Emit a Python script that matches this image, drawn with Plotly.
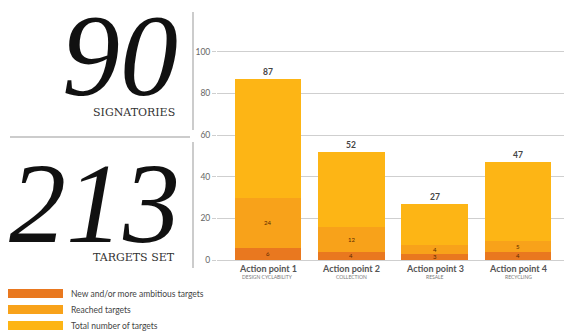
import plotly.graph_objects as go

categories = ["Action point 1", "Action point 2", "Action point 3", "Action point 4"]
subtitles = ["DESIGN CYCLABILITY", "COLLECTION", "RESALE", "RECYCLING"]
new_targets = [6, 4, 3, 4]
reached_targets = [24, 12, 4, 5]
total_targets = [87, 52, 27, 47]
y_ticks = [0, 20, 40, 60, 80, 100]

signatories = "90"
targets_set = "213"

C_NEW = "#E9781F"
C_REACHED = "#F8A21A"
C_TOTAL = "#FDB515"

remainder = [t - n - r for t, n, r in zip(total_targets, new_targets, reached_targets)]
xs = list(range(len(categories)))

# plot area pixel geometry
L, R, T, B = 217, 0, 31, 73
W, H = 564, 333
pw, ph = W - L - R, H - T - B
XR = [-0.61, 3.55]


def px(x):
    return (x - L) / pw


def py(y):
    return (H - B - y) / ph


fig = go.Figure()
for vals, col in [(new_targets, C_NEW), (reached_targets, C_REACHED), (remainder, C_TOTAL)]:
    fig.add_trace(go.Bar(x=xs, y=vals, marker=dict(color=col, line=dict(width=0)),
                         hoverinfo="skip", showlegend=False))

ann = []
for i in xs:
    ann.append(dict(x=i, y=total_targets[i], xref="x", yref="y", text="<b>" + str(total_targets[i]) + "</b>",
                    showarrow=False, xanchor="center", yanchor="bottom", yshift=0,
                    font=dict(family="Lato", size=8.5, color="#444")))
    ann.append(dict(x=i, y=new_targets[i] / 2, xref="x", yref="y", text=str(new_targets[i]),
                    showarrow=False, xanchor="center", yanchor="middle",
                    font=dict(family="Lato", size=6, color="#5a2a00")))
    ann.append(dict(x=i, y=new_targets[i] + reached_targets[i] / 2, xref="x", yref="y",
                    text=str(reached_targets[i]), showarrow=False, xanchor="center", yanchor="middle",
                    font=dict(family="Lato", size=6, color="#5a2a00")))
    ann.append(dict(x=i, y=py(268), xref="x", yref="paper",
                    text="<b>" + categories[i] + "</b>",
                    showarrow=False, xanchor="center", yanchor="middle",
                    font=dict(family="Lato", size=9, color="#555")))
    ann.append(dict(x=i, y=py(277), xref="x", yref="paper", text=subtitles[i],
                    showarrow=False, xanchor="center", yanchor="middle",
                    font=dict(family="Lato", size=5, color="#777")))

# left big numbers
ann.append(dict(x=px(180), y=py(56), xref="paper", yref="paper", text="<i>" + signatories + "</i>",
                showarrow=False, xanchor="right", yanchor="middle",
                font=dict(family="Liberation Serif", size=116, color="#111")))
ann.append(dict(x=px(177), y=py(112), xref="paper", yref="paper", text="SIGNATORIES",
                showarrow=False, xanchor="right", yanchor="middle",
                font=dict(family="DejaVu Serif", size=11, color="#333")))
ann.append(dict(x=px(182), y=py(203), xref="paper", yref="paper", text="<i>" + targets_set + "</i>",
                showarrow=False, xanchor="right", yanchor="middle",
                font=dict(family="Liberation Serif", size=114, color="#111")))
ann.append(dict(x=px(177), y=py(257), xref="paper", yref="paper", text="TARGETS SET",
                showarrow=False, xanchor="right", yanchor="middle",
                font=dict(family="DejaVu Serif", size=11, color="#333")))

shapes = [
    dict(type="line", xref="paper", yref="paper", x0=px(193), x1=px(193), y0=py(12), y1=py(130),
         line=dict(color="#999", width=1)),
    dict(type="line", xref="paper", yref="paper", x0=px(193), x1=px(193), y0=py(142), y1=py(268),
         line=dict(color="#999", width=1)),
    dict(type="line", xref="paper", yref="paper", x0=px(10), x1=px(190), y0=py(137), y1=py(137),
         line=dict(color="#999", width=1)),
]

legend_items = [("New and/or more ambitious targets", C_NEW, 293.5),
                ("Reached targets", C_REACHED, 309.5),
                ("Total number of targets", C_TOTAL, 325.5)]
for label, col, yc in legend_items:
    shapes.append(dict(type="rect", xref="paper", yref="paper", x0=px(8), x1=px(63),
                       y0=py(yc - 4.5), y1=py(yc + 4.5), fillcolor=col, line=dict(width=0)))
    ann.append(dict(x=px(69), y=py(yc), xref="paper", yref="paper", text=label,
                    showarrow=False, xanchor="left", yanchor="middle",
                    font=dict(family="Lato", size=8.5, color="#444")))

fig.update_layout(
    width=W, height=H, margin=dict(l=L, r=R, t=T, b=B),
    paper_bgcolor="white", plot_bgcolor="white",
    barmode="stack", bargap=0.2,
    annotations=ann, shapes=shapes,
    xaxis=dict(range=XR, showticklabels=False, showgrid=False, zeroline=False,
               fixedrange=True),
    yaxis=dict(range=[0, 110], tickvals=y_ticks, showgrid=True, gridcolor="#cfcfcf",
               gridwidth=1, zeroline=True, zerolinecolor="#cfcfcf", zerolinewidth=1,
               ticks="outside", ticklen=4, tickcolor="#cfcfcf",
               tickfont=dict(family="Lato", size=8.5, color="#666"), fixedrange=True),
)

fig.write_html("out.html")
